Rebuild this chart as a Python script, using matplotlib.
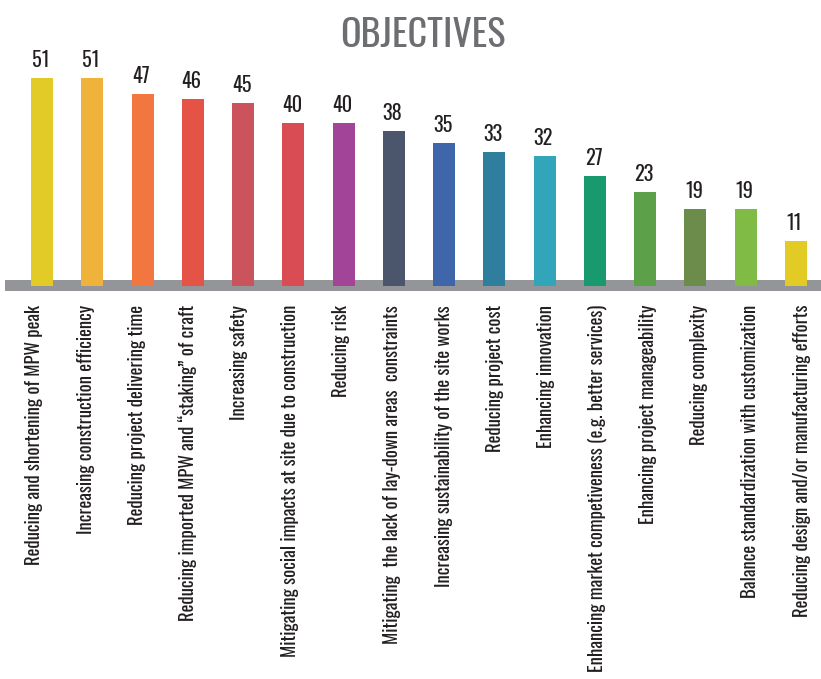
import matplotlib
matplotlib.use('Agg')
import matplotlib.pyplot as plt
from matplotlib import font_manager as fm
from matplotlib.transforms import ScaledTranslation
import numpy as np

title = "OBJECTIVES"
categories = [
    "Reducing and shortening of MPW peak",
    "Increasing construction efficiency",
    "Reducing project delivering time",
    "Reducing imported MPW and \u201cstaking\u201d of craft",
    "Increasing safety",
    "Mitigating social impacts at site due to construction",
    "Reducing risk",
    "Mitigating  the lack of lay-down areas  constraints",
    "Increasing sustainability of the site works",
    "Reducing project cost",
    "Enhancing innovation",
    "Enhancing market competiveness (e.g. better services)",
    "Enhancing project manageability",
    "Reducing complexity",
    "Balance standardization with customization",
    "Reducing design and/or manufacturing efforts",
]
values = [51, 51, 47, 46, 45, 40, 40, 38, 35, 33, 32, 27, 23, 19, 19, 11]
colors = ["#E3CB27", "#EFB23A", "#F27640", "#E55347", "#CB535B", "#DA4C54",
          "#A24598", "#4B566D", "#3F65AB", "#2F7E9E", "#33A5BA", "#199A6E",
          "#5CA14A", "#6B8C4A", "#80BB45", "#E2CB24"]


def pick_font():
    fl = fm.fontManager.ttflist
    prefs = ['Oswald', 'Bebas Neue', 'Roboto Condensed', 'Open Sans Condensed',
             'Liberation Sans Narrow', 'Noto Sans Condensed', 'DejaVu Sans Condensed']
    def ok(f):
        s = f.fname.lower()
        return 'bold' not in s and 'italic' not in s and 'oblique' not in s
    for p in prefs:
        for f in fl:
            if f.name == p and ok(f):
                return fm.FontProperties(fname=f.fname)
    for key in ('narrow', 'condensed'):
        for f in fl:
            s = (f.name + ' ' + f.fname).lower()
            if key in s and ok(f) and 'light' not in s and 'semi' not in s and 'extra' not in s:
                return fm.FontProperties(fname=f.fname)
    return fm.FontProperties(family='DejaVu Sans')


FP = pick_font()

W, H = 821, 679
fig = plt.figure(figsize=(W / 100, H / 100), dpi=100)
fig.patch.set_facecolor('white')

# axes: x from 5px to 821px, y from 0px to 291px (top)
ax = fig.add_axes([5 / W, 1 - 291 / H, (W - 5) / W, 291 / H])
step = 50.27
x = np.arange(len(values))
ax.set_xlim(-(42 - 5) / step, len(values) - 1 + (W - 796) / step)
ppu = 4.075
ax.set_ylim(-6 / ppu, 285 / ppu)

ax.axhspan(-6 / ppu, 5 / ppu, color='#939598', zorder=1, lw=0)
ax.bar(x, values, width=22 / step, color=colors, zorder=2, bottom=-0.25)

for s in ax.spines.values():
    s.set_visible(False)
ax.set_yticks([])
ax.set_xticks(x)
ax.set_xticklabels(categories, rotation=90, ha='center', va='top',
                   fontproperties=FP, color='#231F20')
ax.tick_params(axis='x', length=0, pad=10)

# fit tick label size so first label is ~261 px long
fig.canvas.draw()
r = fig.canvas.get_renderer()
labels = ax.get_xticklabels()
for t in labels:
    t.set_fontsize(10)
fig.canvas.draw()
h0 = labels[0].get_window_extent(r).height
lab_size = 10 * 261 / h0
for i, t in enumerate(labels):
    t.set_fontsize(lab_size)
    off = (-7.5 + i * 0.87) / 100
    t.set_transform(t.get_transform() + ScaledTranslation(off, 0, fig.dpi_scale_trans))

num_size = lab_size * 1.08
for xi, v in zip(x, values):
    ax.annotate(str(v), (xi, v), xytext=(-1, 7.2), textcoords='offset points',
                ha='center', va='baseline', fontproperties=FP,
                fontsize=num_size, color='#231F20', zorder=3)

tt = fig.text(422.5 / W, 1 - 47 / H, title, ha='center', va='baseline',
              fontproperties=FP, fontsize=20, color='#6D6E71')
fig.canvas.draw()
tw = tt.get_window_extent(r).width
tt.set_fontsize(20 * 165 / tw)

fig.savefig('out.png', dpi=100, facecolor='white')
